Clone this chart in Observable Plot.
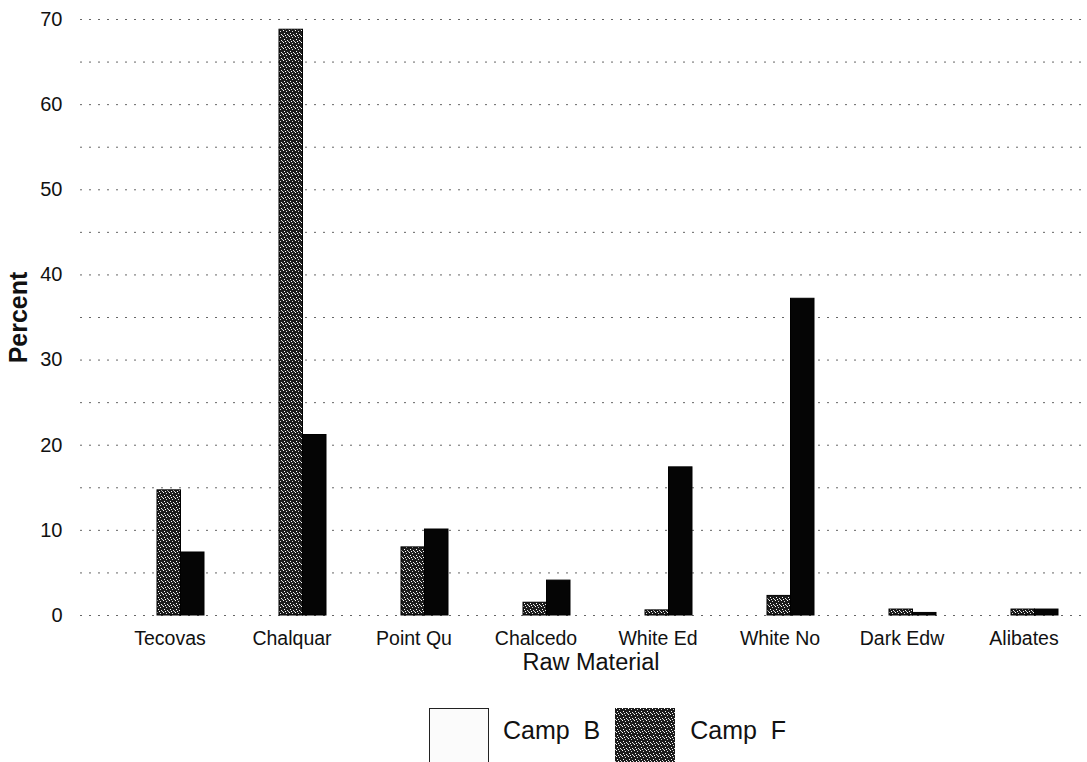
<!DOCTYPE html>
<html>
<head>
<meta charset="utf-8">
<script src="https://cdn.jsdelivr.net/npm/d3@7"></script>
<script src="https://cdn.jsdelivr.net/npm/@observablehq/plot@0.6"></script>
<style>
  body { margin: 0; background: #fff; font-family: "Liberation Sans", Arial, sans-serif; color: #111; }
  #legend { display: flex; align-items: flex-start; margin-left: 429px; margin-top: 18px; }
  .sw { width: 60px; height: 60px; box-sizing: border-box; flex: none; }
  .swB { background: #fbfbfb; border: 1px solid #222; }
  .lab { font-size: 25px; white-space: pre; margin-top: 8px; line-height: 28px; }
</style>
</head>
<body>
<svg width="0" height="0" style="position:absolute">
  <defs>
    <pattern id="speck" width="6" height="6" patternUnits="userSpaceOnUse">
      <rect width="6" height="6" fill="#1c1c1c"></rect>
      <rect x="1" y="0" width="1" height="1" fill="#fff"></rect>
      <rect x="4" y="1" width="1" height="1" fill="#ddd"></rect>
      <rect x="2" y="3" width="1" height="1" fill="#fff"></rect>
      <rect x="5" y="4" width="1" height="1" fill="#eee"></rect>
      <rect x="0" y="5" width="1" height="1" fill="#ccc"></rect>
      <rect x="3" y="5" width="1" height="1" fill="#fff"></rect>
    </pattern>
  </defs>
</svg>
<div id="chart"></div>
<div id="legend">
  <div class="sw swB"></div>
  <div class="lab" style="margin-left:14px;margin-right:15px">Camp  B</div>
  <svg class="sw" width="60" height="60"><rect width="60" height="60" fill="url(#speck)"></rect></svg>
  <div class="lab" style="margin-left:15px">Camp  F</div>
</div>
<script>
const categories = ["Tecovas", "Chalquar", "Point Qu", "Chalcedo", "White Ed", "White No", "Dark Edw", "Alibates"];
const campB = [14.7, 68.8, 8.0, 1.5, 0.6, 2.3, 0.7, 0.7];
const campF = [7.4, 21.2, 10.1, 4.1, 17.4, 37.2, 0.3, 0.7];
const yTicks = [0, 10, 20, 30, 40, 50, 60, 70];
const gridValues = [0, 5, 10, 15, 20, 25, 30, 35, 40, 45, 50, 55, 60, 65, 70];

const rowsB = categories.map((c, i) => ({category: c, series: "Camp B", value: campB[i]}));
const rowsF = categories.map((c, i) => ({category: c, series: "Camp F", value: campF[i]}));

const chart = Plot.plot({
  width: 1087,
  height: 690,
  marginLeft: 80,
  marginRight: 0,
  marginTop: 19,
  marginBottom: 75,
  style: {fontFamily: "'Liberation Sans', Arial, sans-serif", color: "#111", background: "#fff"},
  x: {domain: categories, paddingInner: 0.616, paddingOuter: 0.4216, align: 0.727, label: null},
  y: {domain: [0, 70], label: null},
  marks: [
    Plot.ruleY(gridValues, {stroke: "#666", strokeDasharray: "2,7", strokeWidth: 1}),
    Plot.barY(rowsB, {x: "category", y: "value", fill: "url(#speck)", stroke: "#000", strokeWidth: 1, insetRight: 23.5}),
    Plot.barY(rowsF, {x: "category", y: "value", fill: "#050505", stroke: "#000", strokeWidth: 1, insetLeft: 23.5}),
    Plot.axisY({ticks: yTicks, tickSize: 0, tickPadding: 18, fontSize: 20, label: null}),
    Plot.axisX({tickSize: 0, tickPadding: 16, fontSize: 19.5, dx: -11, label: null}),
    Plot.text(["Percent"], {frameAnchor: "left", textAnchor: "middle", rotate: -90, dx: -62, fontSize: 25, fontWeight: "bold", fill: "#111"}),
    Plot.text(["Raw Material"], {frameAnchor: "bottom", dy: 54, dx: 7, fontSize: 23.5, fill: "#111"})
  ]
});
document.getElementById("chart").appendChild(chart);
</script>
</body>
</html>
